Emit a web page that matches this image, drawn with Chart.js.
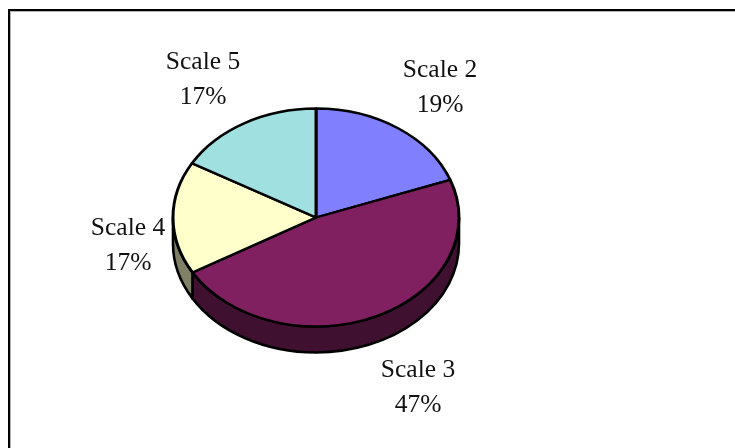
<!DOCTYPE html>
<html>
<head>
<meta charset="utf-8">
<style>
html,body{margin:0;padding:0;background:#fff;overflow:hidden}
#wrap{position:absolute;left:0;top:0;width:735px;height:448px}
</style>
<script src="https://cdn.jsdelivr.net/npm/chart.js@4"></script>
</head>
<body>
<div id="wrap"><canvas id="c" width="735" height="448"></canvas></div>
<script>
const categories = ['Scale 2', 'Scale 3', 'Scale 4', 'Scale 5'];
const shares = [19.4, 47.2, 16.7, 16.7];
const topColors = ['#8080FF', '#802060', '#FFFFCC', '#A0E0E0'];
const sideColors = ['#404080', '#401030', '#808066', '#507070'];
const labelCentres = [[440, 70], [418, 370], [128, 228], [203, 62]];

const squash = 109 / 143, depth = 26, lineGap = 35;

const frame = {
  id: 'frame',
  beforeDraw(chart) {
    const c = chart.ctx, W = chart.width, H = chart.height;
    c.save();
    c.fillStyle = '#fff'; c.fillRect(0, 0, W, H);
    c.fillStyle = '#b4b4b4';
    c.fillRect(10, 11, W - 10, 1);
    c.fillRect(10, 11, 1, H - 11);
    c.fillStyle = '#000';
    c.fillRect(8, 9, W - 8, 2);
    c.fillRect(8, 9, 2, H - 9);
    c.restore();
  }
};

const pie3d = {
  id: 'pie3d',
  beforeDatasetsDraw(chart) {
    const c = chart.ctx;
    const arcs = chart.getDatasetMeta(0).data;
    const cx = arcs[0].x, cy = arcs[0].y, r = arcs[0].outerRadius;
    arcs.forEach((a, i) => {
      const s = Math.max(a.startAngle, 0), e = Math.min(a.endAngle, Math.PI);
      const ss = a.startAngle, ee = a.endAngle;
      if (ss >= Math.PI || ee <= 0) return;
      c.save();
      c.beginPath();
      c.save();
      c.translate(cx, cy + depth); c.scale(1, squash);
      c.arc(0, 0, r, s, e, false);
      c.restore();
      c.save();
      c.translate(cx, cy); c.scale(1, squash);
      c.arc(0, 0, r, e, s, true);
      c.restore();
      c.closePath();
      c.fillStyle = sideColors[i];
      c.fill();
      c.strokeStyle = '#000'; c.lineWidth = 2.6; c.lineJoin = 'round';
      c.stroke();
      c.restore();
    });
    c.save();
    c.translate(cx, cy); c.scale(1, squash); c.translate(-cx, -cy);
  },
  afterDatasetsDraw(chart) {
    chart.ctx.restore();
    const c = chart.ctx;
    c.save();
    c.fillStyle = '#111';
    c.font = '25.5px "Liberation Serif"';
    c.textAlign = 'center';
    c.textBaseline = 'middle';
    categories.forEach((name, i) => {
      const [x, y] = labelCentres[i];
      c.fillText(name, x, y);
      c.fillText(Math.round(shares[i]) + '%', x, y + lineGap);
    });
    c.restore();
  }
};

new Chart(document.getElementById('c'), {
  type: 'pie',
  data: {
    labels: categories,
    datasets: [{
      data: shares,
      backgroundColor: topColors,
      borderColor: '#000',
      borderWidth: 3,
      borderAlign: 'center',
      radius: 143
    }]
  },
  options: {
    responsive: false,
    animation: false,
    events: [],
    layout: { padding: { left: 172, right: 275, top: 73, bottom: 86 } },
    plugins: { legend: { display: false }, tooltip: { enabled: false }, title: { display: false } }
  },
  plugins: [frame, pie3d]
});
</script>
</body>
</html>
